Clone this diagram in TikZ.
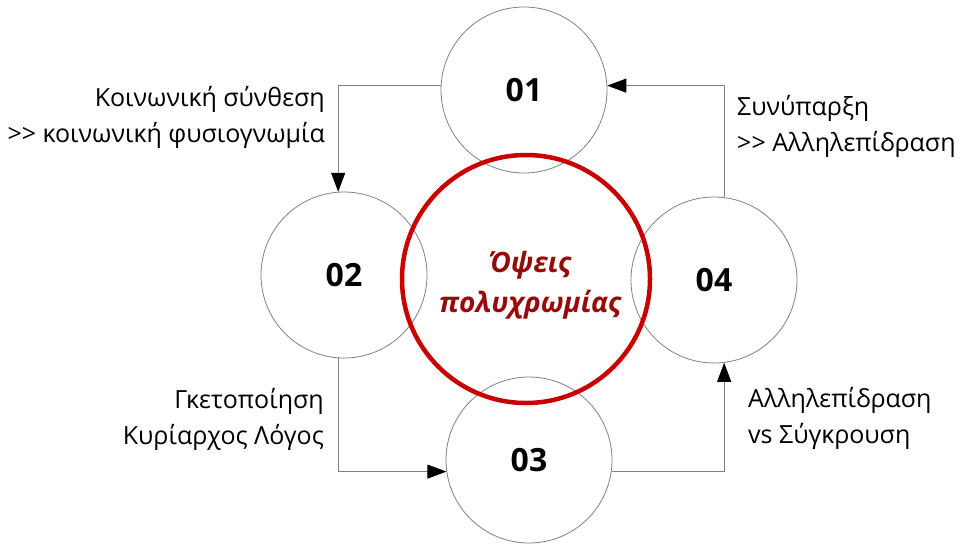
\documentclass[tikz,border=0pt]{standalone}
\usepackage{fontspec}
\setmainfont{Open Sans}
\usetikzlibrary{arrows.meta}
\definecolor{linegray}{RGB}{128,128,128}
\definecolor{ringred}{RGB}{200,0,0}
\definecolor{textred}{RGB}{150,10,10}
\begin{document}
\begin{tikzpicture}[x=1pt,y=-1pt,
  stage/.style={circle,draw=linegray,line width=0.8pt,minimum size=166pt,inner sep=0pt,
    font=\fontsize{32}{36}\selectfont\bfseries},
  conn/.style={draw=linegray,line width=0.8pt,-{Triangle[length=19pt,width=14pt,color=black]}},
  lbl/.style={inner sep=0pt,font=\fontsize{25}{36}\selectfont}
]
\useasboundingbox (0,0) rectangle (965,544);
\node[stage] (c01) at (524,90) {01};
\node[stage] (c02) at (344,275) {02};
\node[stage] (c03) at (529,460) {03};
\node[stage] (c04) at (714,280) {04};
\node[circle,draw=ringred,line width=4.5pt,minimum size=248pt,inner sep=0pt] (core) at (526,279) {};
\node[text=textred,align=center,inner sep=0pt,font=\fontsize{28}{40}\selectfont\bfseries\itshape] (coretext) at (530,285) {Όψεις\\πολυχρωμίας};
\draw[conn] (c01.177) -| (c02.94);
\draw[conn] (c02.266) |- (c03.188);
\draw[conn] (c03.352) -| (c04.277);
\draw[conn] (c04.83) |- (c01.3);
\node[lbl,align=right,anchor=base east] (t1) at (325,142) {Κοινωνική σύνθεση\\>{}> κοινωνική φυσιογνωμία};
\node[lbl,align=left,anchor=base west] (t2) at (737,151) {Συνύπαρξη\\>{}> Αλληλεπίδραση};
\node[lbl,align=right,anchor=base east] (t3) at (324,444) {Γκετοποίηση\\Κυρίαρχος Λόγος};
\node[lbl,align=left,anchor=base west] (t4) at (748,443) {Αλληλεπίδραση\\vs Σύγκρουση};
\end{tikzpicture}
\end{document}
